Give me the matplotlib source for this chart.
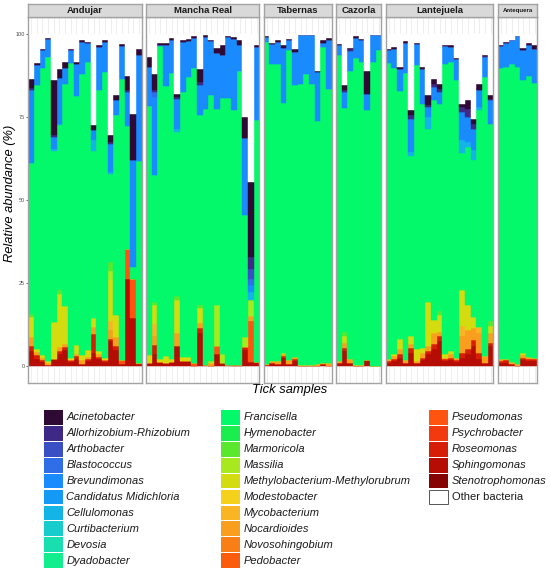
import matplotlib
matplotlib.use("Agg")
import matplotlib.pyplot as plt
from matplotlib.patches import Rectangle
import numpy as np

plt.rcParams['font.family'] = ['Liberation Sans', 'DejaVu Sans']

# ---------------- data ----------------
sites = ["Andujar", "Mancha Real", "Tabernas", "Cazorla", "Lantejuela", "Antequera"]
n_samples = [20, 20, 12, 8, 19, 7]

taxa = ["Acinetobacter", "Allorhizobium-Rhizobium", "Arthobacter", "Blastococcus",
        "Brevundimonas", "Candidatus Midichloria", "Cellulomonas", "Curtibacterium",
        "Devosia", "Dyadobacter",
        "Francisella", "Hymenobacter", "Marmoricola", "Massilia",
        "Methylobacterium-Methylorubrum", "Modestobacter", "Mycobacterium",
        "Nocardioides", "Novosohingobium", "Pedobacter",
        "Pseudomonas", "Psychrobacter", "Roseomonas", "Sphingomonas",
        "Stenotrophomonas", "Other bacteria"]
colors = ["#2F0A35", "#3E2A86", "#3A4FC4", "#2F6EE6", "#1A8AFF", "#1599F7",
          "#15B4E6", "#16CCCC", "#18DEB0", "#12EE8E",
          "#03F86A", "#1AED4E", "#5AE82E", "#A8E81E", "#D4DC10", "#F6D11C",
          "#FAB524", "#FA9E1E", "#FA7E16", "#FA5C0C",
          "#FF5410", "#F23A0E", "#D61E06", "#B50C04", "#860404", "#FFFFFF"]

# relative abundance (%) per sample, sites in order Andujar | Mancha Real | Tabernas | Cazorla | Lantejuela | Antequera
sphingomonas = ([4.5, 2.2, 1.2, 0.4, 1.7, 3.7, 4.9, 1.2, 2.2, 0.7, 1.5, 4.0, 2.0, 1.2, 7.5, 4.9, 0.5, 26.3, 14.5, 0.6]
                + [0.8, 3.7, 0.8, 1.0, 1.2, 6.0, 1.5, 1.5, 0, 10.0, 0.2, 0, 3.5, 0.8, 0.2, 0, 0, 4.7, 1.2, 0.8]
                + [0.2, 0.8, 0.5, 2.5, 0.5, 1.5, 0, 0, 0, 0, 0.5, 0]
                + [0.8, 4.5, 0.8, 0, 0, 1.5, 0, 0]
                + [1.0, 1.5, 2.5, 0.8, 3.8, 0.8, 1.8, 3.5, 5.0, 7.5, 1.5, 1.8, 1.2, 2.5, 3.5, 6.0, 2.2, 0.8, 6.0]
                + [0.8, 1.0, 0.5, 0, 1.8, 1.5, 1.5])
roseomonas = ([1.4, 1.0, 0.5, 0, 0.5, 0.7, 0.8, 0.5, 0.8, 0, 0.7, 5.7, 0.7, 0.5, 0.7, 1.0, 0, 0, 0, 0]
              + [0, 2.5, 0.4, 0, 0, 0, 0, 0, 0, 1.5, 0, 0, 0, 0, 0, 0.3, 0.3, 1.0, 0, 0.4]
              + [0, 0, 0, 0.5, 0, 0.5, 0, 0, 0, 0, 0, 0]
              + [0, 1.0, 0, 0, 0, 0.2, 0, 0]
              + [0.5, 0.5, 1.0, 0, 1.5, 0, 0.7, 1.0, 1.5, 1.5, 0.5, 0.7, 0.6, 1.5, 1.5, 2.0, 1.8, 0, 1.0]
              + [0.7, 0.7, 0, 0, 0.7, 0.5, 0.5])
pseudomonas = ([0, 0, 0, 0, 0, 0, 0, 0, 0, 0, 0, 0, 0, 0, 0, 0, 1.4, 9.0, 11.8, 0.3]
               + [0, 0, 0, 0, 0, 0, 0, 0, 0.8, 0, 0, 0, 2.5, 0, 0, 0, 0, 0, 12.3, 0]
               + [0, 0, 0, 0, 0, 0, 0, 0, 0, 0, 0, 0]
               + [0, 0, 0, 0, 0, 0, 0, 0]
               + [0, 0, 0, 0, 0, 0, 0, 0, 0, 0, 0, 0, 0, 0, 0, 0, 0, 0, 0]
               + [0, 0, 0, 0, 0, 0, 0])
nocardioides = ([2.8, 1.0, 0.7, 0.6, 0, 1.3, 1.0, 0, 0.7, 1.0, 0.5, 2.0, 1.0, 0, 2.8, 2.8, 0, 0, 0, 0]
                + [0, 3.0, 0, 0, 0, 4.0, 0, 0, 0, 1.5, 0, 1.0, 0, 0, 0, 0, 0, 0, 1.5, 0]
                + [0.3, 0.7, 1.0, 0.5, 1.2, 0.7, 0.2, 0.2, 0.2, 0.5, 0.3, 1.0]
                + [0.7, 1.5, 1.2, 0.2, 0.2, 0, 0, 0]
                + [0.7, 1.0, 1.5, 1.0, 1.4, 0.7, 1.5, 1.5, 3.5, 1.2, 0.5, 1.0, 0.7, 5.0, 6.0, 3.5, 6.0, 2.2, 3.0]
                + [0.5, 0.5, 0.7, 0.5, 0.8, 0.7, 0.5])
mycobacterium = ([0, 0, 0, 0, 0, 0, 0, 0, 0, 0, 0, 0, 0, 0, 2.7, 0, 0, 0, 0, 0]
                 + [0, 3.5, 0, 0, 0, 0, 0, 0, 0, 0, 0, 0, 0, 0, 0, 0, 0, 0, 0, 0]
                 + [0, 0, 0, 0, 0, 0, 0, 0, 0, 0, 0, 0]
                 + [0, 0, 0, 0, 0, 0, 0, 0]
                 + [0, 0, 0, 0, 0, 0, 0, 0, 0, 0, 0, 0, 0, 3.0, 0, 0, 1.7, 0, 0]
                 + [0, 0, 0, 0, 0, 0, 0])
methylobacterium = ([6.1, 1.0, 0.8, 0.5, 11.0, 16.1, 11.3, 0.7, 2.5, 1.5, 2.2, 2.8, 0.7, 0.7, 12.1, 6.6, 0, 0, 0, 0]
                    + [2.5, 5.6, 1.0, 2.0, 1.0, 10.0, 1.2, 1.2, 0, 4.5, 0, 0, 0, 0, 0, 0, 0, 0, 0, 0]
                    + [0, 0, 0, 0.5, 0, 0, 0, 0, 0, 0, 0, 0]
                    + [0, 2.0, 0, 0, 0, 0, 0, 0]
                    + [0, 0.7, 3.3, 0, 2.3, 3.7, 1.5, 13.3, 3.9, 5.3, 1.0, 1.0, 0, 10.8, 7.3, 3.3, 0, 0, 2.2]
                    + [0, 0, 0, 0, 0.7, 0, 0])
massilia = ([0, 0, 0, 0, 0, 0, 0, 0, 0, 0, 0, 0, 0, 0, 2.7, 0, 0, 0, 0, 0]
            + [0, 0, 0, 0, 0, 0, 0, 0, 0, 0, 0, 0.5, 12.5, 2.7, 0, 0, 0, 3.0, 5.0, 0]
            + [0, 0, 0, 0, 0, 0, 0, 0, 0, 0, 0, 0]
            + [0, 0, 0, 0, 0, 0, 0, 0]
            + [0, 0, 0, 0, 0, 0, 0, 0, 0, 0, 0, 0, 0, 0, 0, 0, 0, 0, 0]
            + [0, 0, 0, 0, 0, 0, 0])
marmoricola = ([1.0, 0, 0, 0, 0, 1.2, 0, 0, 0, 0, 0, 0, 0, 0, 2.8, 0, 0, 0, 0, 0]
               + [0, 1.0, 0, 0, 0, 1.0, 0, 0, 0, 1.0, 0, 0, 0, 0, 0, 0, 0, 0, 0, 0]
               + [0, 0, 0, 0, 0, 0, 0, 0, 0, 0, 0, 0]
               + [0, 1.2, 0, 0, 0, 0, 0, 0]
               + [0, 0, 0, 0, 0, 0, 0, 0, 0, 1.0, 0, 0, 0, 0, 0, 0, 0, 0, 1.5]
               + [0, 0, 0, 0, 0, 0, 0])
francisella = ([45.3, 79.3, 86.4, 91.6, 51.5, 49.5, 67.0, 88.9, 75.0, 84.8, 86.7, 50.3, 78.8, 86.2, 26.4, 60.2, 84.6, 36.9, 3.5, 60.7]
               + [74.9, 38.1, 94.1, 81.2, 86.0, 49.5, 79.8, 84.3, 89.0, 57.0, 77.3, 80.0, 59.0, 77.3, 80.6, 76.7, 88.5, 36.9, 0, 73.0]
               + [97.1, 89.5, 89.5, 75.2, 93.4, 81.8, 84.8, 87.8, 84.8, 73.3, 95.3, 82.5]
               + [92.1, 67.6, 86.8, 92.4, 91.4, 75.3, 91.6, 95.3]
               + [89.1, 85.9, 74.5, 86.4, 54.2, 85.4, 73.5, 52.2, 66.1, 62.5, 87.5, 87.1, 83.5, 41.2, 47.7, 47.2, 65.3, 84.0, 59.3]
               + [87.6, 87.9, 89.6, 89.6, 82.0, 84.5, 82.7])
cellulomonas = ([0, 0, 0, 0, 0.8, 0.5, 0, 0, 0, 0, 0, 3.2, 0, 0, 0.7, 0, 0, 0, 0, 0]
                + [0, 0, 0, 0, 0, 1.0, 0, 0, 0, 0, 0, 0, 0, 0, 0, 0, 0, 0, 2.3, 0]
                + [0, 0, 0, 0, 0, 0, 0, 0, 0, 0, 0, 0]
                + [0, 0, 0, 0, 0, 0, 0, 0]
                + [0, 0, 0, 0, 1.3, 0, 0, 3.5, 0, 0, 0, 0, 0, 4.0, 1.5, 3.0, 1.0, 0, 0]
                + [0, 0, 0, 0, 0, 0, 0])
brevundimonas = ([22.1, 6.1, 5.5, 5.3, 3.5, 13.7, 4.8, 3.8, 9.7, 9.6, 5.7, 3.2, 12.9, 9.0, 8.6, 4.5, 9.8, 10.3, 32.2, 32.2]
                 + [11.8, 23.6, 0.5, 12.6, 10.1, 9.0, 15.1, 10.9, 9.0, 9.0, 21.6, 16.3, 16.8, 12.8, 18.2, 21.6, 7.8, 23.1, 2.0, 21.9]
                 + [1.5, 5.9, 6.6, 16.7, 3.0, 10.1, 14.8, 11.8, 14.8, 14.6, 1.3, 14.8]
                 + [3.0, 4.7, 6.1, 6.3, 6.5, 5.0, 8.0, 4.5]
                 + [3.8, 6.0, 6.5, 9.2, 10.0, 6.4, 10.4, 3.0, 4.0, 3.5, 5.4, 4.5, 6.3, 8.5, 7.5, 6.5, 5.0, 6.0, 7.0]
                 + [6.7, 7.2, 7.3, 9.2, 9.1, 9.6, 10.4])
blastococcus = ([0] * 20
                + [0, 1.5, 0, 0, 0, 0, 0, 0, 0, 0, 0, 0, 0, 0, 0, 0, 0, 0, 2.0, 0]
                + [0] * 12 + [0] * 8 + [0] * 19 + [0] * 7)
arthobacter = ([0] * 20
               + [0, 0, 0, 0, 0, 0, 0, 0, 0, 0, 0, 0, 0, 0, 0, 0, 0, 0, 3.0, 0]
               + [0] * 12 + [0] * 8 + [0] * 19 + [0] * 7)
allorhizobium = ([0.6, 0, 0, 0, 0.5, 0, 0, 0, 0, 0, 0, 0, 0, 0, 0.5, 0, 0, 0.5, 0, 0]
                 + [0, 0.5, 0, 0, 0, 0.5, 0, 0, 0, 1.0, 0, 0, 0, 0, 0, 0, 0, 0, 3.5, 0]
                 + [0, 0, 0, 0, 0, 0, 0, 0, 0, 0, 0, 0]
                 + [0, 0.5, 0.5, 0, 0, 0, 0, 0]
                 + [0, 0, 0.2, 0, 1.0, 0, 0, 0.5, 1.0, 1.0, 0, 0, 0, 1.5, 2.5, 1.3, 0, 0.3, 0.5]
                 + [0, 0, 0, 0, 0, 0, 0])
acinetobacter = ([2.6, 0.7, 0.3, 0.5, 16.5, 2.8, 1.8, 0.4, 0.6, 0.5, 0.3, 1.3, 0.6, 0.5, 2.0, 1.7, 0.8, 4.4, 14.0, 1.6]
                 + [3.0, 5.0, 0.5, 0.5, 0.5, 0.8, 0.5, 0.5, 0.5, 3.9, 0.5, 0.5, 1.5, 3.2, 0.3, 0.5, 1.7, 6.3, 22.6, 0.5]
                 + [0.3, 0.5, 0.5, 0.7, 0.5, 1.0, 0, 0, 0, 0.5, 0.7, 0.5]
                 + [0.5, 1.5, 0.5, 0.5, 0.5, 6.8, 0, 0]
                 + [0.5, 0.5, 0.5, 0.5, 1.7, 0.4, 0.5, 3.0, 1.5, 1.3, 0.4, 0.5, 0.5, 0.8, 2.7, 1.7, 1.8, 0.5, 1.0]
                 + [0.5, 0.3, 0, 0, 0.8, 0.5, 1.0])

# stacking order, bottom to top
stack = [("Sphingomonas", sphingomonas), ("Roseomonas", roseomonas),
         ("Pseudomonas", pseudomonas), ("Nocardioides", nocardioides),
         ("Mycobacterium", mycobacterium),
         ("Methylobacterium-Methylorubrum", methylobacterium),
         ("Massilia", massilia), ("Marmoricola", marmoricola),
         ("Francisella", francisella), ("Cellulomonas", cellulomonas),
         ("Brevundimonas", brevundimonas), ("Blastococcus", blastococcus),
         ("Arthobacter", arthobacter), ("Allorhizobium-Rhizobium", allorhizobium),
         ("Acinetobacter", acinetobacter)]
color_of = dict(zip(taxa, colors))

# ---------------- layout ----------------
W, H = 550, 578
fig = plt.figure(figsize=(W / 100, H / 100), dpi=100)
x0, bw, gap = 28.3, 5.67, 4.3
ytop, ybot, strip_top = 17.3, 382.7, 4.3
border = "#A3A3A3"

def fx(px):
    return px / W

def fy(py):
    return 1 - py / H

start = 0
left = x0
for si, (site, n) in enumerate(zip(sites, n_samples)):
    width = n * bw
    ax = fig.add_axes([fx(left), fy(ybot), width / W, (ybot - ytop) / H])
    xs = np.arange(n)
    bottom = np.zeros(n)
    for name, vals in stack:
        v = np.array(vals[start:start + n], dtype=float)
        c = color_of[name]
        ax.bar(xs, v, width=1.0, bottom=bottom, color=c, edgecolor=c,
               linewidth=0.3, zorder=2)
        bottom += v
    other = np.clip(100 - bottom, 0, None)
    ax.bar(xs, other, width=1.0, bottom=bottom, color="white", edgecolor="white",
           linewidth=0.3, zorder=2)
    ax.set_xlim(-0.5, n - 0.5)
    ax.set_ylim(-5, 105)
    ax.set_xticks(xs)
    ax.set_xticklabels([])
    ax.set_yticks([0, 25, 50, 75, 100])
    ax.set_yticks([12.5, 37.5, 62.5, 87.5], minor=True)
    ax.grid(which="major", color="#EBEBEB", linewidth=0.6)
    ax.grid(which="minor", axis="y", color="#F4F4F4", linewidth=0.35)
    ax.set_axisbelow(True)
    ax.tick_params(axis="x", length=0)
    ax.tick_params(axis="y", which="minor", length=0)
    if si == 0:
        ax.set_yticklabels(["0", "25", "50", "75", "100"])
        ax.tick_params(axis="y", which="major", length=1.5, width=0.5,
                       color="#333333", labelsize=4.0, labelcolor="#4D4D4D", pad=1)
    else:
        ax.set_yticklabels([])
        ax.tick_params(axis="y", which="major", length=0)
    for sp in ax.spines.values():
        sp.set_color(border)
        sp.set_linewidth(1.0)
    # strip
    sax = fig.add_axes([fx(left), fy(ytop), width / W, (ytop - strip_top) / H])
    sax.set_facecolor("#D9D9D9")
    sax.set_xticks([])
    sax.set_yticks([])
    for sp in sax.spines.values():
        sp.set_color(border)
        sp.set_linewidth(1.0)
    fs = 4.4 if site == "Antequera" else 6.8
    sax.text(0.5, 0.5, site, ha="center", va="center", fontsize=fs,
             fontweight="bold", color="#1A1A1A", transform=sax.transAxes)
    start += n
    left += width + gap

fig.text(fx(10), fy(193), "Relative abundance (%)", rotation=90, ha="center",
         va="center", fontsize=9.3, style="italic", color="black")
fig.text(fx(290), fy(390), "Tick samples", ha="center", va="center",
         fontsize=9.3, style="italic", color="black")

# ---------------- legend ----------------
col_x = [44, 221, 429]
col_items = [taxa[0:10], taxa[10:20], taxa[20:26]]
row0, dy = 417.5, 15.9
sw_w, sw_h = 18.7, 14.6
for cx, items in zip(col_x, col_items):
    for k, name in enumerate(items):
        cy = row0 + k * dy
        c = color_of[name]
        ec = "#555555" if name == "Other bacteria" else c
        lw = 0.7 if name == "Other bacteria" else 0
        fig.patches.append(Rectangle((fx(cx), fy(cy + sw_h / 2)), sw_w / W, sw_h / H,
                                     facecolor=c, edgecolor=ec, linewidth=lw,
                                     transform=fig.transFigure, figure=fig))
        fig.text(fx(cx + 22.5), fy(cy), name, ha="left", va="center", fontsize=8,
                 style="normal" if name == "Other bacteria" else "italic",
                 color="#1A1A1A")

fig.savefig("out.png", dpi=100)
